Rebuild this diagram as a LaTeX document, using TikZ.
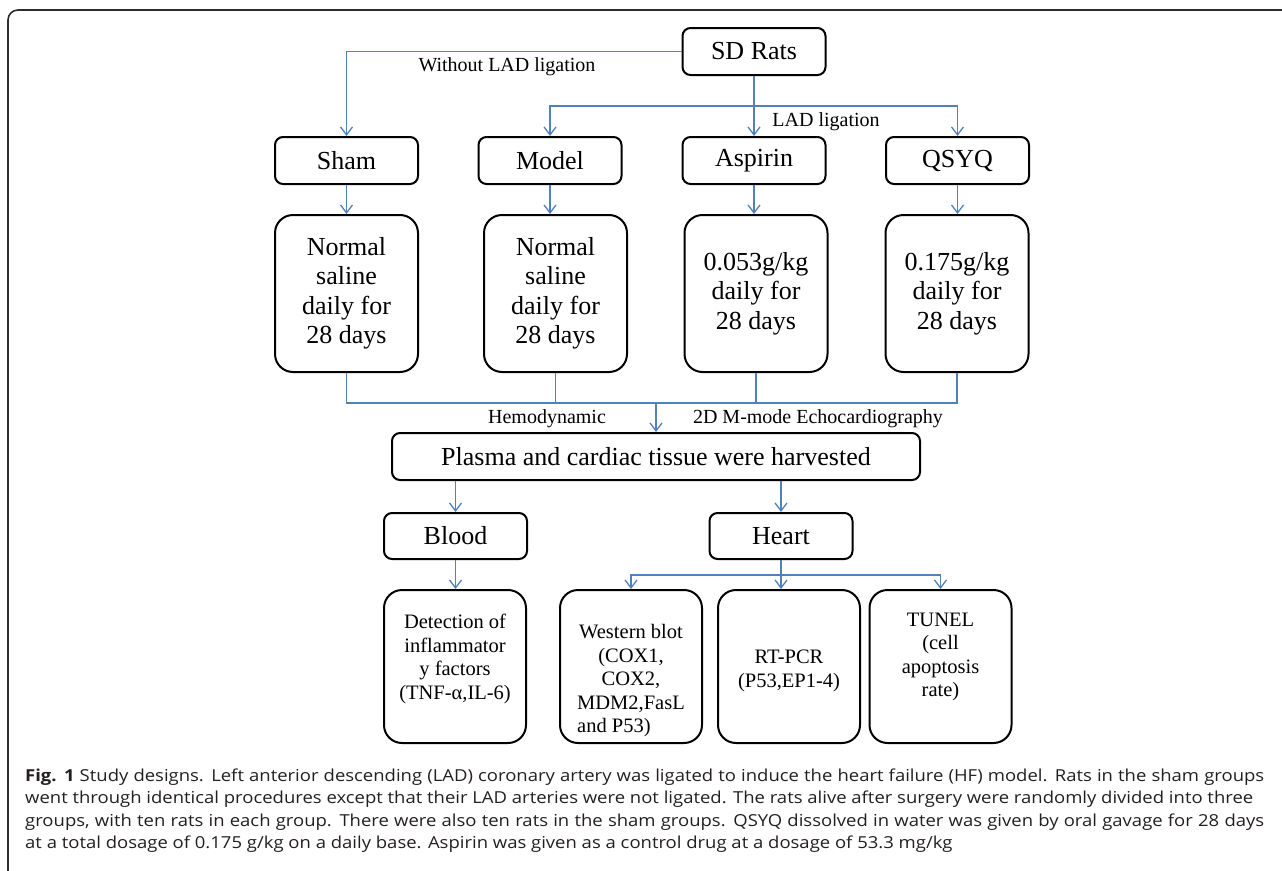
\documentclass[tikz,border=0pt]{standalone}
\usepackage{fontspec}
\setmainfont{Liberation Serif}
\newfontfamily\capfont{Open Sans}[FakeStretch=1.12]
\usetikzlibrary{arrows.meta}
\definecolor{lblue}{RGB}{79,129,189}
\definecolor{framec}{RGB}{45,45,45}
\definecolor{capc}{RGB}{35,31,32}
\tikzset{
  box/.style={draw, line width=2pt, rounded corners=8pt, minimum width=143pt, minimum height=47pt, inner sep=0pt, font=\fontsize{26}{29.5}\selectfont},
  tallbox/.style={box, rounded corners=18pt, minimum height=157pt, align=center},
  lowbox/.style={draw, line width=2pt, rounded corners=18pt, minimum width=142pt, minimum height=153pt, inner sep=0pt},
  lowtext/.style={inner sep=0pt, align=center, font=\fontsize{20.5}{23.5}\selectfont},
  lbl/.style={inner sep=0pt, font=\fontsize{20}{23}\selectfont},
  conn/.style={draw=lblue, line width=1.3pt},
  arr/.style={conn, -{Straight Barb[length=8pt,width=12pt]}},
  capline/.style={anchor=base west, inner sep=0pt, text=capc, font=\capfont\fontsize{16.5}{22.5}\selectfont}
}
\begin{document}
\begin{tikzpicture}[x=1pt,y=-1pt]
\useasboundingbox (0,0) rectangle (1282,870);
% frame
\draw[framec, line width=1.6pt, rounded corners=10pt] (8,871) -- (8,10) -- (1283,10);

% top
\node[box] (sd) at (754,51.5) {SD Rats};
\node[box] (sham) at (346.5,160.5) {Sham};
\node[box] (model) at (550,160.5) {Model};
\node[box] (asp) at (754,160.5) {Aspirin};
\node[box] (qsyq) at (957.5,160.5) {QSYQ};

\node[lbl] (wlad) at (507,67) {Without LAD ligation};
\node[lbl] (lad) at (826,122) {LAD ligation};

\draw[arr] (sd.west) -| (sham.north);
\draw[arr] (sd.south) -- (asp.north);
\coordinate (lc) at (754,106);
\draw[arr] (lc) -| (model.north);
\draw[arr] (lc) -| (qsyq.north);

% row 2
\node[tallbox] (n1) at (346.5,293.5) {Normal\\saline\\daily for\\28 days};
\node[tallbox] (n2) at (555.5,293.5) {Normal\\saline\\daily for\\28 days};
\node[tallbox] (d3) at (756,293.5) {0.053g/kg\\daily for\\28 days};
\node[tallbox] (d4) at (957,293.5) {0.175g/kg\\daily for\\28 days};

\draw[arr] (sham.south) -- (sham.south |- n1.north);
\draw[arr] (model.south) -- (model.south |- n2.north);
\draw[arr] (asp.south) -- (asp.south |- d3.north);
\draw[arr] (qsyq.south) -- (qsyq.south |- d4.north);

% merge
\node[box, minimum width=528pt] (pl) at (656,456.5) {Plasma and cardiac tissue were harvested};
\coordinate (m) at (656,403);
\draw[conn] (n1.south) -- (n1.south |- m) -- (d4.south |- m) -- (d4.south);
\draw[conn] (n2.south) -- (n2.south |- m);
\draw[conn] (d3.south) -- (d3.south |- m);
\draw[arr] (m) -- (pl.north);
\node[lbl] (hemo) at (547,419) {Hemodynamic};
\node[lbl] (echo) at (818,419) {2D M-mode Echocardiography};

% blood / heart
\node[box, minimum height=46pt] (blood) at (455.5,536) {Blood};
\node[box, minimum height=46pt] (heart) at (781,536) {Heart};
\draw[arr] (blood.north |- pl.south) -- (blood.north);
\draw[arr] (heart.north |- pl.south) -- (heart.north);

% bottom
\node[lowbox] (det) at (455,666.5) {};
\node[lowbox] (wb) at (631,666.5) {};
\node[lowbox] (rt) at (789,666.5) {};
\node[lowbox] (tun) at (940.5,666.5) {};
\node[lowtext] (dett) at (455,659) {Detection of\\inflammator\\y factors\\(TNF-α,IL-6)};
\node[lowtext] (wbt) at (631,681) {Western blot\\(COX1,\\COX2,\\MDM2,FasL\\\rlap{and P53)}\phantom{MDM2,FasL}};
\node[lowtext] (rtt) at (789,671) {RT-PCR\\(P53,EP1-4)};
\node[lowtext] (tunt) at (940.5,657) {TUNEL\\(cell\\apoptosis\\rate)};

\draw[arr] (blood.south) -- (blood.south |- det.north);
\coordinate (hb) at (781,575);
\draw[conn] (heart.south) -- (hb);
\draw[arr] (hb) -| (wb.north);
\draw[arr] (hb) -| (tun.north);
\draw[arr] (hb) -- (hb |- rt.north);

% caption
\node[capline] (c1) at (25,781) {\makebox[1239pt][s]{\textbf{Fig. 1} Study designs. Left anterior descending (LAD) coronary artery was ligated to induce the heart failure (HF) model. Rats in the sham groups}};
\node[capline] (c2) at (25,803.5) {went through identical procedures except that their LAD arteries were not ligated. The rats alive after surgery were randomly divided into three};
\node[capline] (c3) at (25,826) {\makebox[1239pt][s]{groups, with ten rats in each group. There were also ten rats in the sham groups. QSYQ dissolved in water was given by oral gavage for 28 days}};
\node[capline] (c4) at (25,848.5) {at a total dosage of 0.175 g/kg on a daily base. Aspirin was given as a control drug at a dosage of 53.3 mg/kg};
\end{tikzpicture}
\end{document}
